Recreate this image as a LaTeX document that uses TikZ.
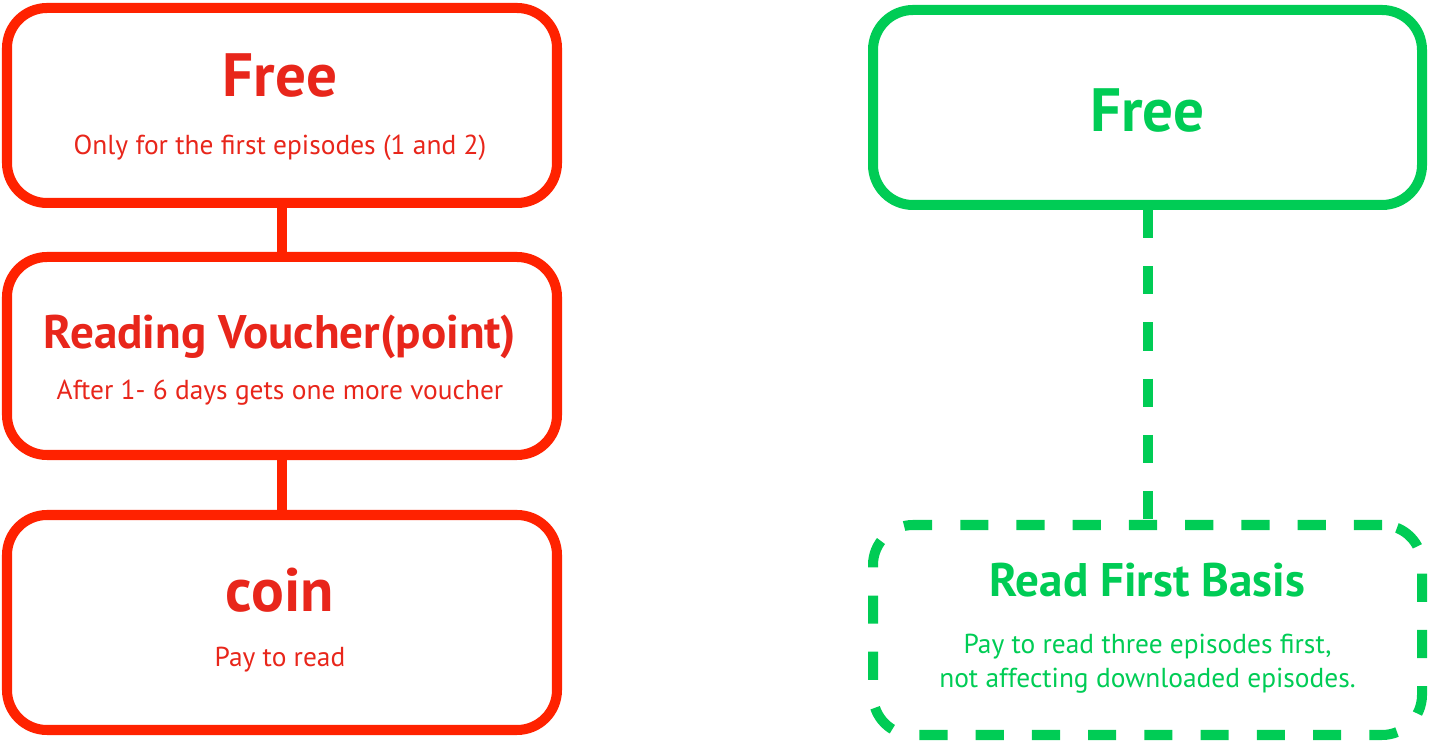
\documentclass[tikz,border=0pt]{standalone}
\usepackage{fontspec}
\setmainfont{PT Sans}
\definecolor{redline}{HTML}{FF2200}
\definecolor{redtext}{HTML}{E8261B}
\definecolor{greenline}{HTML}{00CC55}
\begin{document}
\begin{tikzpicture}[
    redbox/.style={draw=redline, line width=5.7pt, rounded corners=0.8cm, minimum width=11cm},
    greenbox/.style={draw=greenline, line width=5.7pt, rounded corners=0.8cm, minimum width=10.98cm},
    gdash/.style={dash pattern=on 16pt off 16pt},
    bigtitle/.style={anchor=base, font=\bfseries\fontsize{34.8}{38}\selectfont},
    midtitle/.style={anchor=base, font=\bfseries\fontsize{26.8}{30}\selectfont},
    subtext/.style={anchor=base, font=\fontsize{15.6}{19.4}\selectfont, align=center}
  ]

  \useasboundingbox (0,0) rectangle (28.6,14.84);

  \node[redbox, minimum height=3.9cm] (free) at (5.64,12.73) {};
  \node[redbox, minimum height=3.96cm] (voucher) at (5.64,7.72) {};
  \node[redbox, minimum height=4.3cm] (coin) at (5.64,2.39) {};
  \draw[redline, line width=5.7pt] (free.south) -- (voucher.north);
  \draw[redline, line width=5.7pt] (voucher.south) -- (coin.north);

  \node[bigtitle, text=redtext] (freet) at (5.6,12.9) {Free};
  \node[subtext, text=redtext] (frees) at (5.6,11.74) {Only for the first episodes (1 and 2)};
  \node[midtitle, text=redtext] (vouchert) at (5.6,7.86) {Reading Voucher(point)};
  \node[subtext, text=redtext] (vouchers) at (5.6,6.84) {After 1- 6 days gets one more voucher};
  \node[bigtitle, text=redtext] (coint) at (5.6,2.6) {coin};
  \node[subtext, text=redtext] (coins) at (5.6,1.5) {Pay to read};

  \node[greenbox, minimum height=3.9cm] (gfree) at (22.95,12.69) {};
  \node[greenbox, gdash, minimum height=4.2cm] (readfirst) at (22.95,2.24) {};
  \draw[greenline, line width=5.7pt, gdash] (gfree.south) -- (readfirst.north);

  \node[bigtitle, text=greenline] (gfreet) at (22.95,12.2) {Free};
  \node[midtitle, text=greenline] (readfirstt) at (22.95,2.9) {Read First Basis};
  \node[subtext, text=greenline, anchor=north] (readfirsts) at (22.95,2.28)
    {Pay to read three episodes first,\\ not affecting downloaded episodes.};

\end{tikzpicture}
\end{document}
